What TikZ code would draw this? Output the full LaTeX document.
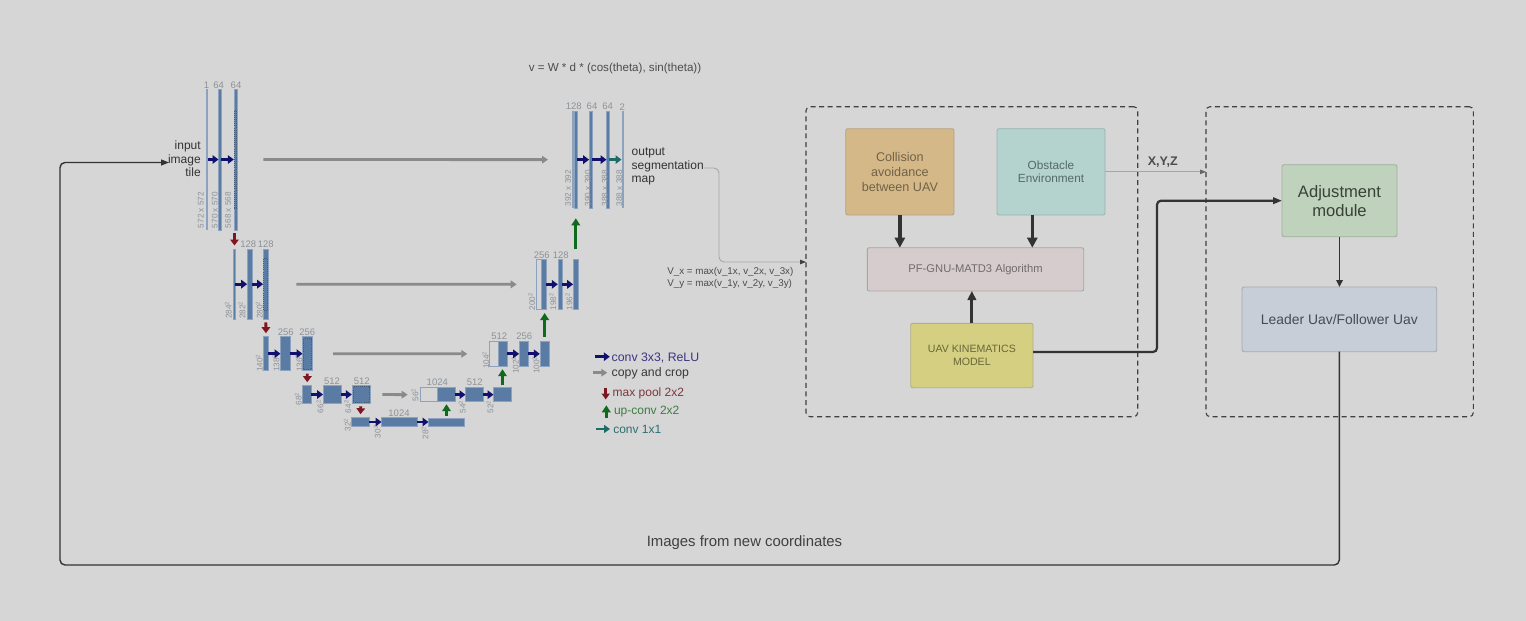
\documentclass[tikz,border=0pt]{standalone}
\usepackage{fontspec}
\setmainfont{Liberation Sans}
\usetikzlibrary{arrows.meta}
\definecolor{bg}{HTML}{D6D6D6}
\definecolor{ublue}{HTML}{5A7BA3}
\definecolor{ublueline}{HTML}{8DA2BE}
\definecolor{ulab}{HTML}{8C9298}
\definecolor{navyA}{HTML}{10106E}
\definecolor{greyA}{HTML}{8A8A8A}
\definecolor{redA}{HTML}{7E1520}
\definecolor{greenA}{HTML}{0E6A1C}
\definecolor{tealA}{HTML}{1B6E68}
\definecolor{tConv}{RGB}{60,52,130}
\definecolor{tPool}{RGB}{125,55,60}
\definecolor{tUp}{RGB}{60,125,65}
\definecolor{tOne}{RGB}{45,110,110}
\definecolor{colD}{RGB}{180,165,135}\definecolor{colF}{RGB}{213,184,136}\definecolor{colT}{RGB}{112,98,72}
\definecolor{obsD}{RGB}{150,180,176}\definecolor{obsF}{RGB}{181,211,206}\definecolor{obsT}{RGB}{84,106,104}
\definecolor{pfD}{RGB}{170,165,165}\definecolor{pfF}{RGB}{215,204,205}\definecolor{pfT}{RGB}{112,107,107}
\definecolor{uavD}{RGB}{178,175,130}\definecolor{uavF}{RGB}{213,207,130}\definecolor{uavT}{RGB}{104,102,56}
\definecolor{adjD}{RGB}{160,175,158}\definecolor{adjF}{RGB}{191,210,188}\definecolor{adjT}{RGB}{56,66,56}
\definecolor{leaD}{RGB}{165,170,178}\definecolor{leaF}{RGB}{199,206,216}\definecolor{leaT}{RGB}{70,75,84}
\tikzset{
  x=1pt,y=-1pt,
  ublock/.style={draw=ublueline,line width=.5pt,fill=ublue,inner sep=0pt,outer sep=0pt},
  uwhite/.style={draw=ublueline,line width=.7pt,fill=bg,inner sep=0pt,outer sep=0pt},
  uthin/.style={draw=none,fill=ublueline,inner sep=0pt,outer sep=0pt},
  udot/.style={draw=ublue!75!black,line width=.7pt,dash pattern=on .8pt off 1.3pt,fill=none,inner sep=0pt,outer sep=0pt},
  toplab/.style={text=ulab,inner sep=0pt,font=\fontsize{9.5}{10}\selectfont},
  sidelab/.style={text=ulab,inner sep=0pt,rotate=90,font=\fontsize{8.2}{9}\selectfont},
  conv/.style={navyA,line width=2.8pt,shorten >=.2pt,shorten <=-.3pt,-{Triangle[length=6pt,width=8.5pt]}},
  copyA/.style={greyA,line width=2.8pt,-{Triangle[length=6pt,width=7.5pt]}},
  pool/.style={redA,line width=2.8pt,shorten >=3.5pt,shorten <=3pt,-{Triangle[length=6pt,width=8.5pt]}},
  upA/.style={greenA,line width=2.8pt,-{Triangle[length=7pt,width=8.5pt]}},
  txt/.style={inner sep=0pt,outer sep=0pt},
  mbox/.style={draw=#1,rounded corners=2pt,line width=.9pt,inner sep=0pt,outer sep=0pt,align=center},
  dbox/.style={draw=black!75,line width=1.1pt,dash pattern=on 5pt off 3.6pt,rounded corners=4pt,inner sep=0pt,outer sep=0pt},
  thickar/.style={black!80,line width=3.6pt,-{Triangle[length=10pt,width=10pt]}},
  medar/.style={black!80,line width=1.7pt,-{Triangle[length=7pt,width=6.5pt]}},
  thinar/.style={black!35,line width=.9pt,rounded corners=5pt},
}
\newcommand{\ublk}[6][ublock]{\node[#1,minimum width={(#4-#3)*1pt},minimum height={(#6-#5)*1pt}] (#2) at ({(#3+#4)/2},{(#5+#6)/2}) {};}
\newcommand{\tlab}[4]{\node[toplab] (#1) at (#2,#3) {#4};}
\newcommand{\slab}[4]{\node[sidelab] (#1) at (#2,#3) {#4};}
\newcommand{\sq}{\textsuperscript{2}}
% name, colour stem, font size, leading, x1, x2, y1, y2, text
\newcommand{\mbx}[9]{\node[mbox=#2D,fill=#2F,text=#2T,font=\fontsize{#3}{#4}\selectfont,minimum width={(#6-#5)*1pt},minimum height={(#8-#7)*1pt}] (#1) at ({(#5+#6)/2},{(#7+#8)/2}) {#9};}
\begin{document}
\begin{tikzpicture}
\useasboundingbox (0,0) rectangle (1526,621);
\fill[bg] (0,0) rectangle (1526,621);
% --- contracting path
\ublk[uthin]{a1}{206}{208}{89}{230}
\ublk{a2}{218.7}{221.6}{89}{230}
\ublk{a3}{234}{236.9}{89}{230}
\ublk[udot]{a3d}{234.4}{236.5}{110}{208}
\ublk{b1}{233.3}{235.7}{249}{319.3}
\ublk{b2}{247.3}{252.3}{249}{319.3}
\ublk{b3}{263.3}{268.3}{249}{319.3}
\ublk[udot]{b3d}{263.8}{267.8}{258}{310}
\ublk{c1}{263.3}{268.7}{336.7}{370.7}
\ublk{c2}{280.7}{290}{336.7}{370.7}
\ublk{c3}{302.7}{312}{336.7}{370.7}
\ublk[udot]{c3d}{303.5}{311.2}{338.5}{369}
\ublk{d1}{302.7}{311.7}{385.7}{403.3}
\ublk{d2}{323.3}{341.3}{385.7}{403.3}
\ublk{d3}{352}{370}{385.7}{403.3}
\ublk[udot]{d3d}{353}{369}{386.7}{402.3}
\ublk{e1}{351.3}{369.3}{417.7}{426.3}
\ublk{e2}{381.7}{417.3}{417.7}{426.3}
\ublk{e3}{428.7}{464.3}{418}{426}
% --- expanding path
\ublk[uwhite]{f0}{420}{437.3}{387.7}{401.7}
\ublk{f1}{437.3}{455.3}{387.7}{401.7}
\ublk{f2}{465.7}{483.7}{387.7}{401.7}
\ublk{f3}{493.7}{511.3}{387.7}{401.7}
\ublk[uwhite]{g0}{489.3}{498.3}{341}{366.7}
\ublk{g1}{498.3}{507.7}{341}{366.7}
\ublk{g2}{519.3}{528.7}{341}{366.7}
\ublk{g3}{540}{549.3}{341}{366.7}
\ublk[uwhite]{h0}{536.7}{541.3}{259.7}{309}
\ublk{h1}{541.3}{546.3}{259.7}{309}
\ublk{h2}{558}{562.7}{259.7}{309}
\ublk{h3}{573.3}{578.3}{259.7}{309}
\ublk[uthin]{i0}{572}{574.3}{111}{208.3}
\ublk{i1}{574.3}{577.3}{111}{208.3}
\ublk{i2}{589.3}{592.7}{111}{208.3}
\ublk{i3}{606.7}{609.7}{111}{208.3}
\ublk[uthin]{i4}{621.7}{623.7}{111}{208.3}
% --- size labels
\tlab{la1}{206.5}{85}{1}\tlab{la2}{218.7}{85}{64}\tlab{la3}{236}{85}{64}
\slab{sa1}{200.7}{210}{572 x 572}\slab{sa2}{214.7}{210}{570 x 570}\slab{sa3}{228}{210}{568 x 568}
\tlab{lb2}{248.3}{244.7}{128}\tlab{lb3}{265.7}{244.7}{128}
\slab{sb1}{228.3}{310}{284\sq}\slab{sb2}{242}{310}{282\sq}\slab{sb3}{259.3}{310}{280\sq}
\tlab{lc2}{285.7}{332.3}{256}\tlab{lc3}{307.3}{332.3}{256}
\slab{sc1}{259.3}{363}{140\sq}\slab{sc2}{276}{363}{138\sq}\slab{sc3}{299}{363}{136\sq}
\tlab{ld2}{332}{381}{512}\tlab{ld3}{361.7}{381}{512}
\slab{sd1}{298.3}{399}{68\sq}\slab{sd2}{320}{406.7}{66\sq}\slab{sd3}{347.7}{406.7}{64\sq}
\tlab{le2}{399}{413}{1024}
\slab{se1}{347.3}{425}{32\sq}\slab{se2}{377.3}{431.7}{30\sq}\slab{se3}{425}{433}{28\sq}
\tlab{lf1}{437.3}{382.3}{1024}\tlab{lf2}{474.7}{382.3}{512}
\slab{sf0}{415}{395}{56\sq}\slab{sf1}{462.3}{407}{54\sq}\slab{sf2}{490}{407}{52\sq}
\tlab{lg1}{499.3}{336}{512}\tlab{lg2}{524.3}{336}{256}
\slab{sg0}{485.7}{360}{104\sq}\slab{sg1}{515.3}{365}{102\sq}\slab{sg2}{536}{365}{100\sq}
\tlab{lh1}{541.7}{255}{256}\tlab{lh2}{560.7}{255}{128}
\slab{sh0}{531.7}{301.7}{200\sq}\slab{sh1}{552.7}{301.7}{198\sq}\slab{sh2}{569}{301.7}{196\sq}
\tlab{li1}{573.7}{106.7}{128}\tlab{li2}{592}{106.7}{64}\tlab{li3}{607.7}{106.7}{64}\tlab{li4}{622.3}{106.7}{2}
\slab{si1}{568}{188.3}{392 x 392}\slab{si2}{587.7}{188.3}{390 x 390}\slab{si3}{604.7}{188.3}{388 x 388}\slab{si4}{619.3}{188.3}{388 x 388}
% --- conv arrows
\foreach \p/\q in {a1/a2,a2/a3,b1/b2,b2/b3,c1/c2,c2/c3,d1/d2,d2/d3,e1/e2,e2/e3,f1/f2,f2/f3,g1/g2,g2/g3,h1/h2,h2/h3,i1/i2,i2/i3}
  \draw[conv] (\p.east) -- (\q.west);
\draw[conv,tealA] (i3.east) -- (i4.west);
% --- copy and crop
\draw[copyA] ([xshift=26.5pt]a3.east) -- ([xshift=-24pt]i0.west);
\draw[copyA] ([xshift=28pt]b3.east) -- ([xshift=-20pt]h0.west);
\draw[copyA] ([xshift=21pt]c3.east) -- ([xshift=-22pt]g0.west);
\draw[copyA] ([xshift=12.3pt]d3.east) -- ([xshift=-12.3pt]f0.west);
% --- pooling
\draw[pool] (b1.north |- a3.south) -- (b1.north);
\draw[pool] (b3.south) -- (c1.north);
\draw[pool] (c3.south) -- (d1.north);
\draw[pool] (d3.south) -- (e1.north);
% --- up-conv
\draw[upA,shorten <=2.5pt,shorten >=2.5pt] (e3.north) -- (e3.north |- f1.south);
\draw[upA,shorten <=2.5pt,shorten >=2.5pt] (f3.north) -- (f3.north |- g1.south);
\draw[upA,shorten <=4.5pt,shorten >=4pt] (g3.north) -- (g3.north |- h1.south);
\draw[upA,shorten <=10.5pt,shorten >=10pt] (h3.north) -- (h3.north |- i1.south);
% --- unet texts
\node[txt,anchor=east,align=right,text=black!80,font=\fontsize{12}{13.4}\selectfont] (intext) at (200.7,158.8) {input\\image\\tile};
\node[txt,anchor=west,align=left,text=black!80,font=\fontsize{12}{13.3}\selectfont] (outtext) at (631.7,166.5) {output\\segmentation\\map};
\node[txt,text=black!70,font=\fontsize{11.6}{13}\selectfont] (vel) at (615,68.7) {v = W * d * (cos(theta), sin(theta))};
\node[txt,anchor=west,align=left,text=black!70,font=\fontsize{9.8}{12}\selectfont] (vmax) at (667.3,277.7) {V\_x = max(v\_1x, v\_2x, v\_3x)\\V\_y = max(v\_1y, v\_2y, v\_3y)};
% --- legend
\coordinate (l1a) at (595.7,356.7);\coordinate (l1b) at (610,356.7);
\coordinate (l2a) at (592.7,372.7);\coordinate (l2b) at (607.3,372.7);
\coordinate (l3a) at (605.7,387.7);\coordinate (l3b) at (605.7,399.5);
\coordinate (l4a) at (606.3,417.5);\coordinate (l4b) at (606.3,405.3);
\coordinate (l5a) at (596,429);\coordinate (l5b) at (610,429);
\draw[conv] (l1a) -- (l1b);
\draw[copyA] (l2a) -- (l2b);
\draw[redA,line width=2.8pt,-{Triangle[length=6pt,width=8pt]}] (l3a) -- (l3b);
\draw[upA] (l4a) -- (l4b);
\draw[tealA,line width=2.6pt,-{Triangle[length=6pt,width=8pt]}] (l5a) -- (l5b);
\node[txt,anchor=west,text=tConv,font=\fontsize{12.3}{14}\selectfont] (t1) at (611.7,357.5) {conv 3x3, ReLU};
\node[txt,anchor=west,text=black!78,font=\fontsize{12.3}{14}\selectfont] (t2) at (611.7,373.5) {copy and crop};
\node[txt,anchor=west,text=tPool,font=\fontsize{12}{14}\selectfont] (t3) at (612.7,393.5) {max pool 2x2};
\node[txt,anchor=west,text=tUp,font=\fontsize{12}{14}\selectfont] (t4) at (614,412) {up-conv 2x2};
\node[txt,anchor=west,text=tOne,font=\fontsize{12}{14}\selectfont] (t5) at (613.3,429.5) {conv 1x1};
% --- dashed groups
\ublk[dbox]{box1}{806}{1137.7}{106.7}{416.7}
\ublk[dbox]{box2}{1206}{1473.3}{106.7}{416.7}
% --- module boxes
\mbx{col}{col}{12.6}{14.7}{845.7}{954}{128.7}{215}{Collision\\avoidance\\between UAV}
\mbx{obs}{obs}{11.8}{13.5}{997}{1105}{128.7}{215}{Obstacle\\Environment}
\mbx{pf}{pf}{11.2}{13}{867.3}{1083.7}{247.7}{291}{PF-GNU-MATD3 Algorithm}
\mbx{uav}{uav}{10.6}{12.7}{910.7}{1033}{323.3}{387.7}{UAV KINEMATICS\\MODEL}
\mbx{adj}{adj}{16.6}{19}{1282}{1397}{164.7}{236.7}{Adjustment\\module}
\mbx{lead}{lea}{13.9}{16}{1242}{1436.7}{287}{351.7}{Leader Uav/Follower Uav}
% --- connectors
\draw[thickar] (col.south) -- (col.south |- pf.north);
\draw[thickar] ([xshift=-18.7pt]obs.south) -- ([xshift=-18.7pt]obs.south |- pf.north);
\draw[thickar,line width=3.2pt,-{Triangle[length=9pt,width=8.5pt]}] (uav.north) -- (uav.north |- pf.south);
\coordinate (elbow) at (1157,200.7);
\draw[black!80,line width=2.2pt,rounded corners=4pt,-{Triangle[length=9pt,width=6.5pt]}] ([yshift=3.5pt]uav.east) -| (elbow) -- (adj.west);
\draw[medar] (adj.south) -- (adj.south |- lead.north);
\coordinate (fb1) at (1339.3,565);
\coordinate (fb2) at (60,565);
\coordinate (intip) at (169,162.5);
\draw[black!80,line width=1.4pt,rounded corners=5pt,-{Triangle[length=8pt,width=6pt]}] (lead.south) -- (fb1) -- (fb2) |- (intip);
\coordinate (segc) at (719,262);
\draw[thinar,-{Triangle[length=6pt,width=4.5pt,black!75]}] ([yshift=-1.5pt]outtext.east) -| (segc) -- (segc -| box1.west);
\draw[black!35,line width=.9pt,-{Triangle[length=6pt,width=4.5pt,black!60]}] (obs.east) -- (obs.east -| box2.west);
\node[txt,text=black!70,font=\bfseries\fontsize{12.5}{14}\selectfont] (xyz) at (1162.7,162.3) {X,Y,Z};
\node[txt,text=black!75,font=\fontsize{14.9}{17}\selectfont] (cap) at (744.5,542.3) {Images from new coordinates};
\end{tikzpicture}
\end{document}
